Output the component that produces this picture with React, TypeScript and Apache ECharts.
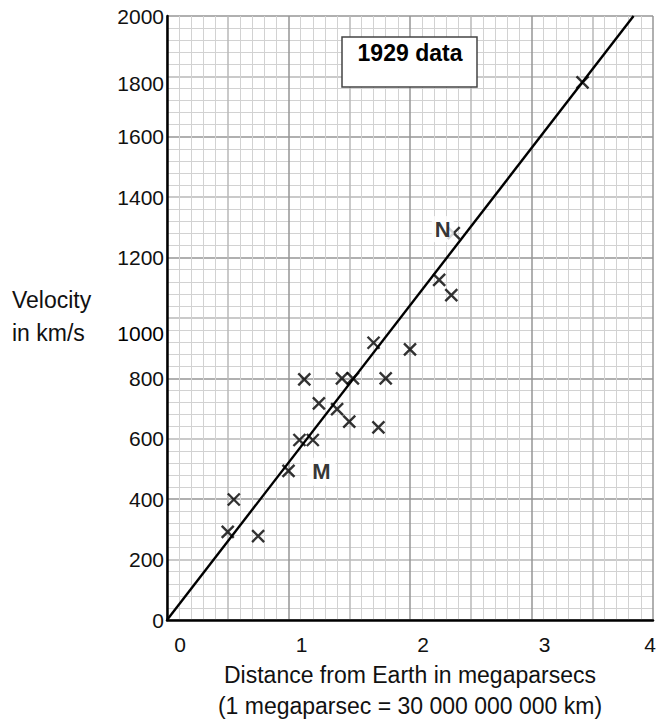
import React, { useEffect, useRef } from "react";
import * as echarts from "echarts";

const distances = [0.5, 0.75, 0.55, 1.0, 1.09, 1.2, 1.13, 1.25, 1.4, 1.44, 1.53, 1.5, 1.7, 1.74, 1.8, 2.0, 2.24, 2.34, 3.42, 2.36];
const velocities = [292, 278, 399, 494, 596, 596, 797, 717, 698, 800, 800, 657, 918, 638, 800, 896, 1126, 1076, 1780, 1281];
const pointLabels = ["", "", "", "M", "", "", "", "", "", "", "", "", "", "", "", "", "", "", "", "N"];
const fitLine = [[0, 0], [3.84, 2000]];
const xTicks = [0, 1, 2, 3, 4];
const yTicks = [0, 200, 400, 600, 800, 1000, 1200, 1400, 1600, 1800, 2000];
const titleText = "1929 data";
const yName = ["Velocity", "in km/s"];
const xName = ["Distance from Earth in megaparsecs", "(1 megaparsec = 30 000 000 000 km)"];

const FONT = "'Liberation Sans', Arial, sans-serif";
const MINOR = "#d2d2d2";
const MEDIUM = "#b8b8b8";
const MAJOR = "#969696";

export default function App() {
  const ref = useRef<HTMLDivElement>(null);
  useEffect(() => {
    document.body.style.margin = "0";
    const chart = echarts.init(ref.current!, null, { renderer: "svg" });
    const scatterData = distances.map((d, i) => {
      const item: any = { value: [d, velocities[i]] };
      if (pointLabels[i] === "M") {
        item.label = {
          show: true, formatter: "M", position: "inside", offset: [33, 1],
          backgroundColor: "#fff", padding: [3, 5], fontSize: 22, fontWeight: "bold",
          color: "#000", fontFamily: FONT,
        };
      } else if (pointLabels[i] === "N") {
        item.label = {
          show: true, formatter: "N", position: "inside", offset: [-11, -4],
          backgroundColor: "#fff", padding: [2, 3], fontSize: 22, fontWeight: "bold",
          color: "#000", fontFamily: FONT,
        };
      }
      return item;
    });
    chart.setOption({
      animation: false,
      backgroundColor: "#fff",
      grid: { left: 167, right: 5, top: 16, bottom: 99, containLabel: false, outerBoundsMode: "none" },
      xAxis: {
        type: "value", min: 0, max: 4, interval: 0.5,
        axisLine: { show: true, onZero: false, lineStyle: { color: "#000", width: 2.5 } },
        axisTick: { show: false },
        axisLabel: {
          margin: 14, color: "#111", fontSize: 21, fontFamily: FONT,
          formatter: (v: number) => {
            if (!xTicks.includes(v)) return "";
            return v === 4 ? `{b|${v}}` : `{a|${v}}`;
          },
          rich: {
            a: { padding: [0, 0, 0, 26], fontSize: 21, fontFamily: FONT, color: "#111" },
            b: { padding: [0, 6, 0, 0], fontSize: 21, fontFamily: FONT, color: "#111" },
          },
        },
        splitLine: { show: true, lineStyle: { color: [MAJOR, MEDIUM], width: 1.5 } },
        minorTick: { show: false, splitNumber: 5 },
        minorSplitLine: { show: true, lineStyle: { color: MINOR, width: 1 } },
        name: xName.join("\n"), nameLocation: "middle", nameGap: 38,
        nameTextStyle: { fontSize: 23, fontFamily: FONT, color: "#111", lineHeight: 31 },
      },
      yAxis: {
        type: "value", min: 0, max: 2000, interval: 200,
        axisLine: { show: true, onZero: false, lineStyle: { color: "#000", width: 2.5 } },
        axisTick: { show: false },
        axisLabel: {
          margin: 3, color: "#111", fontSize: 21, fontFamily: FONT,
          formatter: (v: number) => {
            if (!yTicks.includes(v)) return "";
            if (v === 1000) return `{d|${v}}`;
            if (v === 1800) return `{e|${v}}`;
            return `{a|${v}}`;
          },
          rich: {
            a: { fontSize: 21, fontFamily: FONT, color: "#111" },
            d: { fontSize: 21, fontFamily: FONT, color: "#000", padding: [30, 0, 0, 0] },
            e: { fontSize: 21, fontFamily: FONT, color: "#111", padding: [14, 0, 0, 0] },
          },
        },
        splitLine: { show: true, lineStyle: { color: [MAJOR, MEDIUM], width: 1.5 } },
        minorTick: { show: false, splitNumber: 5 },
        minorSplitLine: { show: true, lineStyle: { color: MINOR, width: 1 } },
      },
      series: [
        {
          type: "line", data: fitLine, symbol: "none", silent: true,
          lineStyle: { color: "#000", width: 2.4 }, z: 3,
        },
        {
          type: "scatter", data: scatterData,
          symbol: "path://M0,0L10,10M10,0L0,10", symbolSize: 12,
          itemStyle: { color: "none", borderColor: "#000", borderWidth: 2.4 },
          z: 4,
        },
      ],
      graphic: [
        {
          type: "rect", shape: { x: 342, y: 37, width: 135, height: 50 },
          style: { fill: "#fff", stroke: "#444", lineWidth: 1.5 }, z: 10,
        },
        {
          type: "text", x: 410, y: 53, z: 11,
          style: {
            text: titleText, fontSize: 23, fontWeight: "bold", fontFamily: FONT,
            fill: "#000", align: "center", verticalAlign: "middle",
          },
        },
        {
          type: "text", x: 12, y: 300, z: 11,
          style: { text: yName[0], fontSize: 23, fontFamily: FONT, fill: "#111", align: "left", verticalAlign: "middle" },
        },
        {
          type: "text", x: 12, y: 333, z: 11,
          style: { text: yName[1], fontSize: 23, fontFamily: FONT, fill: "#111", align: "left", verticalAlign: "middle" },
        },
      ],
    });
    return () => chart.dispose();
  }, []);
  return <div ref={ref} style={{ position: "fixed", left: 0, top: 0, width: 658, height: 719 }} />;
}
